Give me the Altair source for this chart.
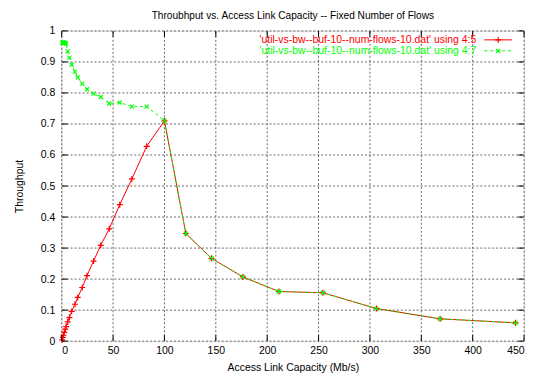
import altair as alt
import pandas as pd

# Access link capacity (Mb/s)
capacity = [0.4, 1.1, 1.7, 2.5, 3.5, 4.3, 5.8, 7.5, 9.7, 12.9, 15.6, 20.0, 24.6,
            31.0, 38.0, 46.3, 56.5, 68.3, 82.7, 100.0, 120.8, 145.8, 176.3,
            211.5, 254.2, 306.4, 368.3, 441.7]
# column 5
util_45 = [0.004, 0.012, 0.019, 0.028, 0.039, 0.047, 0.062, 0.076, 0.096, 0.119,
           0.141, 0.173, 0.211, 0.258, 0.309, 0.362, 0.440, 0.523, 0.628, 0.710,
           0.347, 0.267, 0.207, 0.160, 0.156, 0.105, 0.072, 0.059]
# column 7
util_47 = [0.962, 0.963, 0.962, 0.962, 0.961, 0.958, 0.934, 0.914, 0.891, 0.868,
           0.850, 0.830, 0.812, 0.798, 0.787, 0.766, 0.769, 0.756, 0.756, 0.711,
           0.347, 0.267, 0.207, 0.160, 0.156, 0.105, 0.072, 0.059]

series_names = ["'util-vs-bw--buf-10--num-flows-10.dat' using 4:5",
                "'util-vs-bw--buf-10--num-flows-10.dat' using 4:7"]
x_ticks = [0, 50, 100, 150, 200, 250, 300, 350, 400, 450]
y_ticks = [0, 0.1, 0.2, 0.3, 0.4, 0.5, 0.6, 0.7, 0.8, 0.9, 1.0]

RED = "#ff0000"
GREEN = "#00ff00"
FONT = "Liberation Sans"
FS = 10.5
W, H = 465, 312

df = pd.DataFrame({"x": capacity, "y45": util_45, "y47": util_47})
xt = pd.DataFrame({"gx": x_ticks})
yt = pd.DataFrame({"gy": y_ticks})
xtk = pd.DataFrame({"t": x_ticks})
ytk = pd.DataFrame({"t": y_ticks})
one = pd.DataFrame({"k": [0]})

xs = alt.Scale(domain=[0, 450], nice=False)
ys = alt.Scale(domain=[0, 1], nice=False)

xaxis = alt.Axis(values=x_ticks, grid=False, tickSize=0, labelPadding=4, domain=False,
                 labelFont=FONT, labelFontSize=FS, labelColor="#000",
                 labelOverlap=False,
                 title="Access Link Capacity (Mb/s)", titleFont=FONT,
                 titleFontSize=FS, titleFontWeight="normal", titlePadding=7,
                 titleColor="#000")
yaxis = alt.Axis(values=y_ticks, grid=False, tickSize=0, labelPadding=7, domain=False,
                 labelOverlap=False,
                 format="~g", labelFont=FONT, labelFontSize=FS, labelColor="#000",
                 title="Throughput", titleFont=FONT, titleFontSize=FS,
                 titleFontWeight="normal", titlePadding=16, titleColor="#000")


def X(f):
    return alt.X(f, type="quantitative", scale=xs, axis=xaxis, title="Access Link Capacity (Mb/s)")


def Y(f):
    return alt.Y(f, type="quantitative", scale=ys, axis=yaxis, title="Throughput")


# dotted grid lines
xgrid = alt.Chart(xt).mark_rule(stroke="#666666", strokeWidth=1, strokeDash=[2, 2],
                                strokeOpacity=1).encode(
    x=X("gx"), y=alt.value(1), y2=alt.value(H - 1))
ygrid = alt.Chart(yt).mark_rule(stroke="#666666", strokeWidth=1, strokeDash=[2, 2],
                                strokeOpacity=1).encode(
    y=Y("gy"), x=alt.value(1), x2=alt.value(W - 1))

base = alt.Chart(df)

plus_path = "M-1,0L1,0M0,-1L0,1"
x_path = "M-1,-1L1,1M-1,1L1,-1"

red_line = base.mark_line(color=RED, strokeWidth=1).encode(
    x=X("x"), y=Y("y45"), order="x:Q")
red_pts = base.mark_point(shape=plus_path, size=36, color=RED, filled=False,
                          strokeWidth=1.2, opacity=1).encode(x=X("x"), y=Y("y45"))
green_line = base.mark_line(color=GREEN, strokeWidth=1, strokeDash=[3, 3]).encode(
    x=X("x"), y=Y("y47"), order="x:Q")
green_pts = base.mark_point(shape=x_path, size=16, color=GREEN, filled=False,
                            strokeWidth=1.2, opacity=1).encode(x=X("x"), y=Y("y47"))

# inward mirror ticks
tick_len = 6
xt_bottom = alt.Chart(xtk).mark_rule(color="#000").encode(
    x=X("t"), y=alt.value(H), y2=alt.value(H - tick_len))
xt_top = alt.Chart(xtk).mark_rule(color="#000").encode(
    x=X("t"), y=alt.value(0), y2=alt.value(tick_len))
yt_left = alt.Chart(ytk).mark_rule(color="#000").encode(
    y=Y("t"), x=alt.value(0), x2=alt.value(tick_len))
yt_right = alt.Chart(ytk).mark_rule(color="#000").encode(
    y=Y("t"), x=alt.value(W), x2=alt.value(W - tick_len))


# key
def key_row(name, color, ypos, path, psize, dash):
    txt = alt.Chart(one).mark_text(align="right", baseline="middle", font=FONT,
                                   fontSize=FS, color=color, text=name).encode(
        x=alt.value(417), y=alt.value(ypos))
    rule_kw = dict(color=color, strokeWidth=1)
    if dash:
        rule_kw["strokeDash"] = dash
    rl = alt.Chart(one).mark_rule(**rule_kw).encode(
        x=alt.value(425), x2=alt.value(453), y=alt.value(ypos))
    pt = alt.Chart(one).mark_point(shape=path, size=psize, color=color, filled=False,
                                   strokeWidth=1.2, opacity=1).encode(
        x=alt.value(439), y=alt.value(ypos))
    return [txt, rl, pt]


key_layers = (key_row(series_names[0], RED, 9, plus_path, 36, None) +
              key_row(series_names[1], GREEN, 20, x_path, 16, [3, 3]))

chart = alt.layer(
    xgrid, ygrid,
    red_line, red_pts, green_line, green_pts,
    xt_bottom, xt_top, yt_left, yt_right,
    *key_layers
).properties(
    width=W, height=H,
    title=alt.TitleParams("Throubhput vs. Access Link Capacity -- Fixed Number of Flows",
                          font=FONT, fontSize=10.2, fontWeight="normal", color="#000",
                          anchor="middle", offset=5),
    autosize=alt.AutoSizeParams(type="none"),
    padding={"left": 54, "top": 22, "right": 10, "bottom": 34},
).configure_view(stroke="#000", strokeWidth=1).configure(background="white")

chart.save("out.html", embed_options={"renderer": "svg", "actions": False})
